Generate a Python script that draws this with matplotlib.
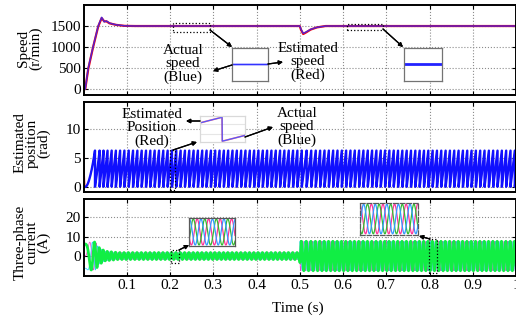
import numpy as np
import matplotlib
matplotlib.use("Agg")
import matplotlib.pyplot as plt
from matplotlib.patches import Rectangle

plt.rcParams["font.family"] = ["Liberation Serif", "DejaVu Serif"]
plt.rcParams["font.size"] = 11

# speed trace (time s, r/min)
speed_t = [0, 0.004, 0.011, 0.022, 0.034, 0.042, 0.048, 0.053, 0.060, 0.075, 0.095, 0.12,
           0.50, 0.503, 0.508, 0.515, 0.525, 0.54, 0.56, 1.0]
speed_act = [0, 0, 500, 1000, 1500, 1707, 1600, 1620, 1570, 1530, 1505, 1500,
             1500, 1420, 1325, 1360, 1420, 1470, 1500, 1500]
speed_est = [0, 0, 480, 990, 1490, 1690, 1610, 1612, 1565, 1528, 1504, 1500,
             1500, 1410, 1310, 1350, 1415, 1468, 1500, 1500]

# phase current amplitude envelope (time s, A)
cur_t = [0, 0.028, 0.035, 0.05, 0.08, 0.5, 0.5005, 1.0]
cur_amp = [7.2, 7.2, 4.5, 2.5, 1.8, 1.8, 7.6, 7.6]

# initial error of the estimated position (time s, rad)
pos_err_t = [0, 0.003]
pos_err = [6.0, 0.0]

pole_pairs = 4
n = 40000

xticks = [0.1, 0.2, 0.3, 0.4, 0.5, 0.6, 0.7, 0.8, 0.9, 1.0]
xtick_labels = ["0.1", "0.2", "0.3", "0.4", "0.5", "0.6", "0.7", "0.8", "0.9", "1"]

# dense signals derived from the read values
t = np.linspace(0, 1, n)
dt = t[1] - t[0]
w = np.interp(t, speed_t, speed_act)
theta = np.cumsum(w / 60 * 2 * np.pi * pole_pairs * dt)
pos_act = np.mod(theta, 2 * np.pi)
pos_est = np.mod(theta + np.interp(t, pos_err_t, pos_err), 2 * np.pi)
amp = np.interp(t, cur_t, cur_amp)
ia = amp * np.sin(theta)
ib = amp * np.sin(theta - 2 * np.pi / 3)
ic = amp * np.sin(theta + 2 * np.pi / 3)

W, H = 516, 322
fig = plt.figure(figsize=(W / 100, H / 100), dpi=100)


def box(x0, y0, x1, y1):
    return [x0 / W, (H - y1) / H, (x1 - x0) / W, (y1 - y0) / H]


def fp(x, y):
    return (x, H - y)


def style(ax, yt):
    ax.set_xlim(0, 1)
    ax.set_xticks(xticks)
    ax.set_yticks(yt)
    ax.tick_params(direction="in", top=True, right=True, length=3, width=0.8, pad=2)
    ax.grid(True, ls=":", color="0.55", lw=0.8)
    for s in ax.spines.values():
        s.set_linewidth(1.4)


def dash_box(ax, x, y, wd, ht):
    ax.add_patch(Rectangle((x, y), wd, ht, fill=False, ls=":", lw=0.9, color="k", zorder=5))


ax1 = fig.add_axes(box(83.5, 5, 516, 95))
ax2 = fig.add_axes(box(83.5, 102, 516, 192))
ax3 = fig.add_axes(box(83.5, 199, 516, 276))

# speed
ax1.plot(speed_t, speed_est, color="red", lw=1.6)
ax1.plot(speed_t, speed_act, color="#2a2aff", lw=1.1, alpha=0.8)
ax1.set_ylim(-140, 2000)
style(ax1, [0, 500, 1000, 1500])
ax1.set_xticklabels([])
dash_box(ax1, 0.207, 1357, 0.085, 214)
dash_box(ax1, 0.609, 1405, 0.083, 143)

# position
ax2.plot(t, pos_est, color="red", lw=0.8)
ax2.plot(t, pos_act, color="#1010ff", lw=1.7)
ax2.set_ylim(-0.9, 14.7)
style(ax2, [0, 5, 10])
ax2.set_xticklabels([])
dash_box(ax2, 0.200, -0.47, 0.012, 6.9)

# currents
ax3.plot(t, ia, color="#ff33cc", lw=0.5)
ax3.plot(t, ib, color="#22ccff", lw=0.5)
ax3.plot(t, ic, color="#11ee44", lw=2.0)
ax3.set_ylim(-10.3, 29.4)
style(ax3, [0, 10, 20])
ax3.set_xticklabels(xtick_labels)
dash_box(ax3, 0.202, -3.6, 0.019, 6.7)
dash_box(ax3, 0.798, -8.7, 0.019, 17.5)

fig.text(298 / W, (H - 308) / H, "Time (s)", ha="center", va="center", fontsize=11)
fig.text(30 / W, (H - 48) / H, "Speed\n(r/min)", rotation=90, ha="center", va="center",
         multialignment="center", linespacing=0.9, fontsize=11)
fig.text(32 / W, (H - 143) / H, "Estimated\nposition\n(rad)", rotation=90, ha="center",
         va="center", multialignment="center", linespacing=0.9, fontsize=11)
fig.text(32 / W, (H - 242) / H, "Three-phase\ncurrent\n(A)", rotation=90, ha="center",
         va="center", multialignment="center", linespacing=0.9, fontsize=11)


def inset(rect, ec="0.45", ls="-"):
    a = fig.add_axes(box(*rect))
    a.tick_params(left=False, bottom=False, labelleft=False, labelbottom=False)
    for s in a.spines.values():
        s.set_edgecolor(ec)
        s.set_linewidth(0.9)
        s.set_linestyle(ls)
    return a


# speed insets
i1 = inset((232, 48, 268, 81))
m = (t > 0.2) & (t < 0.3)
i1.plot(t[m], w[m], color="#3333ff", lw=1.2)
i1.set_xlim(0.2, 0.3)
i1.set_ylim(1400, 1600)
i2 = inset((404, 48, 442, 81))
m = (t > 0.6) & (t < 0.7)
i2.plot(t[m], w[m], color="#2222ff", lw=2.0)
i2.set_xlim(0.6, 0.7)
i2.set_ylim(1400, 1600)

# position inset around a wrap near t = 0.2
wraps = np.where(np.diff(pos_act) < 0)[0]
tw = t[wraps[np.argmin(np.abs(t[wraps] - 0.2))]]
i3 = inset((200, 116, 245, 142), ec="0.85")
span = 0.0048
m = (t > tw - 0.49 * span) & (t < tw + 0.51 * span)
i3.set_yticks([2, 4.5])
i3.grid(True, axis="y", color="0.9", lw=0.8)
i3.plot(t[m], pos_est[m], color="red", lw=1.2, alpha=0.5)
i3.plot(t[m], pos_act[m], color="#5555ff", lw=0.9)
i3.set_xlim(tw - 0.49 * span, tw + 0.51 * span)
i3.set_ylim(-0.2, 6.6)

# current insets
for rect, t0, t1, ls in [((189, 218, 235, 246), 0.20, 0.24, "-"),
                         ((360, 203, 418, 235), 0.80, 0.85, "--")]:
    a = inset(rect, ec="0.35", ls=ls)
    m = (t > t0) & (t < t1)
    a.plot(t[m], ia[m], color="#ff3399", lw=0.9)
    a.plot(t[m], ic[m], color="#33bb33", lw=0.9)
    a.plot(t[m], ib[m], color="#3399ff", lw=0.9)
    a.set_xlim(t0, t1)
    am = amp[m].max()
    a.set_ylim(-am * 1.08, am * 1.08)

# annotation texts
fig.text(183 / W, (H - 64) / H, "Actual\nspeed\n(Blue)", ha="center", va="center",
         linespacing=1.0, fontsize=11)
fig.text(308 / W, (H - 62) / H, "Estimated\nspeed\n(Red)", ha="center", va="center",
         linespacing=1.0, fontsize=11)
fig.text(152 / W, (H - 128) / H, "Estimated\nPosition\n(Red)", ha="center", va="center",
         linespacing=1.0, fontsize=11)
fig.text(297 / W, (H - 127) / H, "Actual\nspeed\n(Blue)", ha="center", va="center",
         linespacing=1.0, fontsize=11)

arrows = [((210, 30), (232, 47)), ((232, 65), (213, 71)), ((268, 64), (283, 62)),
          ((383, 29), (403, 47)),
          ((200, 121), (186, 121)), ((173, 150), (197, 142)), ((245, 137), (273, 127)),
          ((179, 250), (189, 245)), ((430, 239), (419, 236))]
for (x0, y0), (x1, y1) in arrows:
    fig.add_artist(plt.annotate("", xy=fp(x1, y1), xytext=fp(x0, y0),
                                xycoords="figure pixels", textcoords="figure pixels",
                                arrowprops=dict(arrowstyle="-|>", color="k", lw=0.9,
                                                mutation_scale=6, shrinkA=0, shrinkB=0)))

fig.savefig("out.png", dpi=100)
